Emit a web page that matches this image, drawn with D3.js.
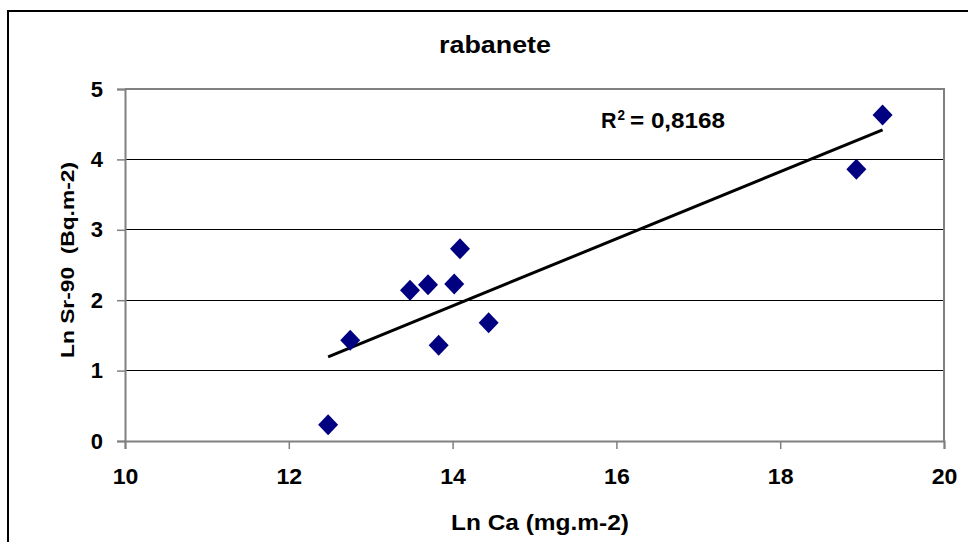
<!DOCTYPE html>
<html>
<head>
<meta charset="utf-8">
<script src="https://cdn.jsdelivr.net/npm/d3@7"></script>
<style>
  html, body { margin: 0; padding: 0; background: #ffffff; }
  svg { display: block; }
  text { font-family: "Liberation Sans", Arial, sans-serif; font-weight: bold; fill: #000; }
</style>
</head>
<body>
<svg id="chart" width="968" height="542"></svg>
<script>
// Ln Ca (mg.m-2) and Ln Sr-90 (Bq.m-2) for radish samples
const lnCa = [12.48, 12.75, 13.48, 13.70, 13.83, 14.02, 14.09, 14.44, 18.93, 19.25];
const lnSr = [0.23, 1.43, 2.14, 2.22, 1.36, 2.23, 2.73, 1.68, 3.86, 4.63];

const xTicks = [10, 12, 14, 16, 18, 20];
const yTicks = [0, 1, 2, 3, 4, 5];

const chartTitle = "rabanete";
const xTitle = "Ln Ca (mg.m-2)";
const yTitle = "Ln Sr-90  (Bq.m-2)";
const r2Value = "0,8168";

const svg = d3.select("#chart");

const plot = { left: 125, right: 944, top: 89, bottom: 441 };
const x = d3.scaleLinear().domain([10, 20]).range([plot.left, plot.right]);
const y = d3.scaleLinear().domain([0, 5]).range([plot.bottom, plot.top]);

// widen glyphs horizontally by a factor
function widen(sel, factor) {
  sel.each(function () {
    const len = this.getComputedTextLength();
    d3.select(this).attr("textLength", len * factor).attr("lengthAdjust", "spacingAndGlyphs");
  });
}

// outer chart frame
svg.append("rect")
  .attr("x", 8).attr("y", 11)
  .attr("width", 1000).attr("height", 600)
  .attr("fill", "#fff").attr("stroke", "#000").attr("stroke-width", 2);

// horizontal gridlines
svg.append("g")
  .selectAll("line")
  .data(yTicks.filter(t => t > 0 && t < 5))
  .join("line")
  .attr("x1", plot.left).attr("x2", plot.right)
  .attr("y1", d => y(d)).attr("y2", d => y(d))
  .attr("stroke", "#000").attr("stroke-width", 1)
  .attr("shape-rendering", "crispEdges");

// plot area border (top and right)
svg.append("path")
  .attr("d", `M${plot.left},${plot.top}H${plot.right}V${plot.bottom}`)
  .attr("fill", "none").attr("stroke", "#808080").attr("stroke-width", 2);

// x axis
const xAxis = svg.append("g")
  .attr("transform", `translate(0,${plot.bottom})`)
  .call(d3.axisBottom(x).tickValues(xTicks).tickSize(8).tickPadding(22).tickFormat(d3.format("d")));
xAxis.select(".domain").attr("stroke", "#808080").attr("stroke-width", 2);
xAxis.selectAll(".tick line").attr("stroke", "#808080").attr("stroke-width", 1.5);
xAxis.selectAll(".tick text")
  .attr("font-size", 22).attr("font-family", "Liberation Sans, Arial, sans-serif").attr("font-weight", "bold").attr("fill", "#000")
  .attr("dy", "0.6em");

// y axis
const yAxis = svg.append("g")
  .attr("transform", `translate(${plot.left},0)`)
  .call(d3.axisLeft(y).tickValues(yTicks).tickSize(8).tickPadding(14).tickFormat(d3.format("d")));
yAxis.select(".domain").attr("stroke", "#808080").attr("stroke-width", 2);
yAxis.selectAll(".tick line").attr("stroke", "#808080").attr("stroke-width", 1.5);
yAxis.selectAll(".tick text")
  .attr("font-size", 22).attr("font-family", "Liberation Sans, Arial, sans-serif").attr("font-weight", "bold").attr("fill", "#000");

widen(xAxis.selectAll(".tick text"), 1.05);
widen(yAxis.selectAll(".tick text"), 1.0);

// linear regression trendline
const n = lnCa.length;
const mx = d3.mean(lnCa), my = d3.mean(lnSr);
let sxy = 0, sxx = 0;
for (let i = 0; i < n; i++) {
  sxy += (lnCa[i] - mx) * (lnSr[i] - my);
  sxx += (lnCa[i] - mx) ** 2;
}
const slope = sxy / sxx;
const intercept = my - slope * mx;
const [x0, x1] = d3.extent(lnCa);

svg.append("line")
  .attr("x1", x(x0)).attr("y1", y(intercept + slope * x0))
  .attr("x2", x(x1)).attr("y2", y(intercept + slope * x1))
  .attr("stroke", "#000").attr("stroke-width", 3);

// data points as diamonds
const pts = lnCa.map((v, i) => ({ x: v, y: lnSr[i] }));
svg.append("g")
  .selectAll("path")
  .data(pts)
  .join("path")
  .attr("d", d => {
    const cx = x(d.x), cy = y(d.y);
    return `M${cx},${cy - 10.5}L${cx + 10},${cy}L${cx},${cy + 10.5}L${cx - 10},${cy}Z`;
  })
  .attr("fill", "#000080");

// title
svg.append("text")
  .attr("x", 495).attr("y", 53)
  .attr("text-anchor", "middle")
  .attr("font-size", 23)
  .attr("textLength", 112).attr("lengthAdjust", "spacingAndGlyphs")
  .text(chartTitle);

// x axis title
svg.append("text")
  .attr("x", 540).attr("y", 530)
  .attr("text-anchor", "middle")
  .attr("font-size", 22)
  .attr("textLength", 178).attr("lengthAdjust", "spacingAndGlyphs")
  .text(xTitle);

// y axis title
svg.append("text")
  .attr("transform", "translate(74,260) rotate(-90)")
  .attr("text-anchor", "middle")
  .attr("font-size", 19)
  .attr("xml:space", "preserve")
  .style("white-space", "pre")
  .attr("textLength", 196).attr("lengthAdjust", "spacingAndGlyphs")
  .text(yTitle);

// R² annotation
const r2 = svg.append("g");
r2.append("text").attr("x", 601).attr("y", 128).attr("font-size", 22)
  .attr("textLength", 15.5).attr("lengthAdjust", "spacingAndGlyphs").text("R");
r2.append("text").attr("x", 617.5).attr("y", 120).attr("font-size", 14)
  .attr("textLength", 7.5).attr("lengthAdjust", "spacingAndGlyphs").text("2");
r2.append("text").attr("x", 630).attr("y", 128).attr("font-size", 22)
  .attr("textLength", 95).attr("lengthAdjust", "spacingAndGlyphs").text("= " + r2Value);
</script>
</body>
</html>
